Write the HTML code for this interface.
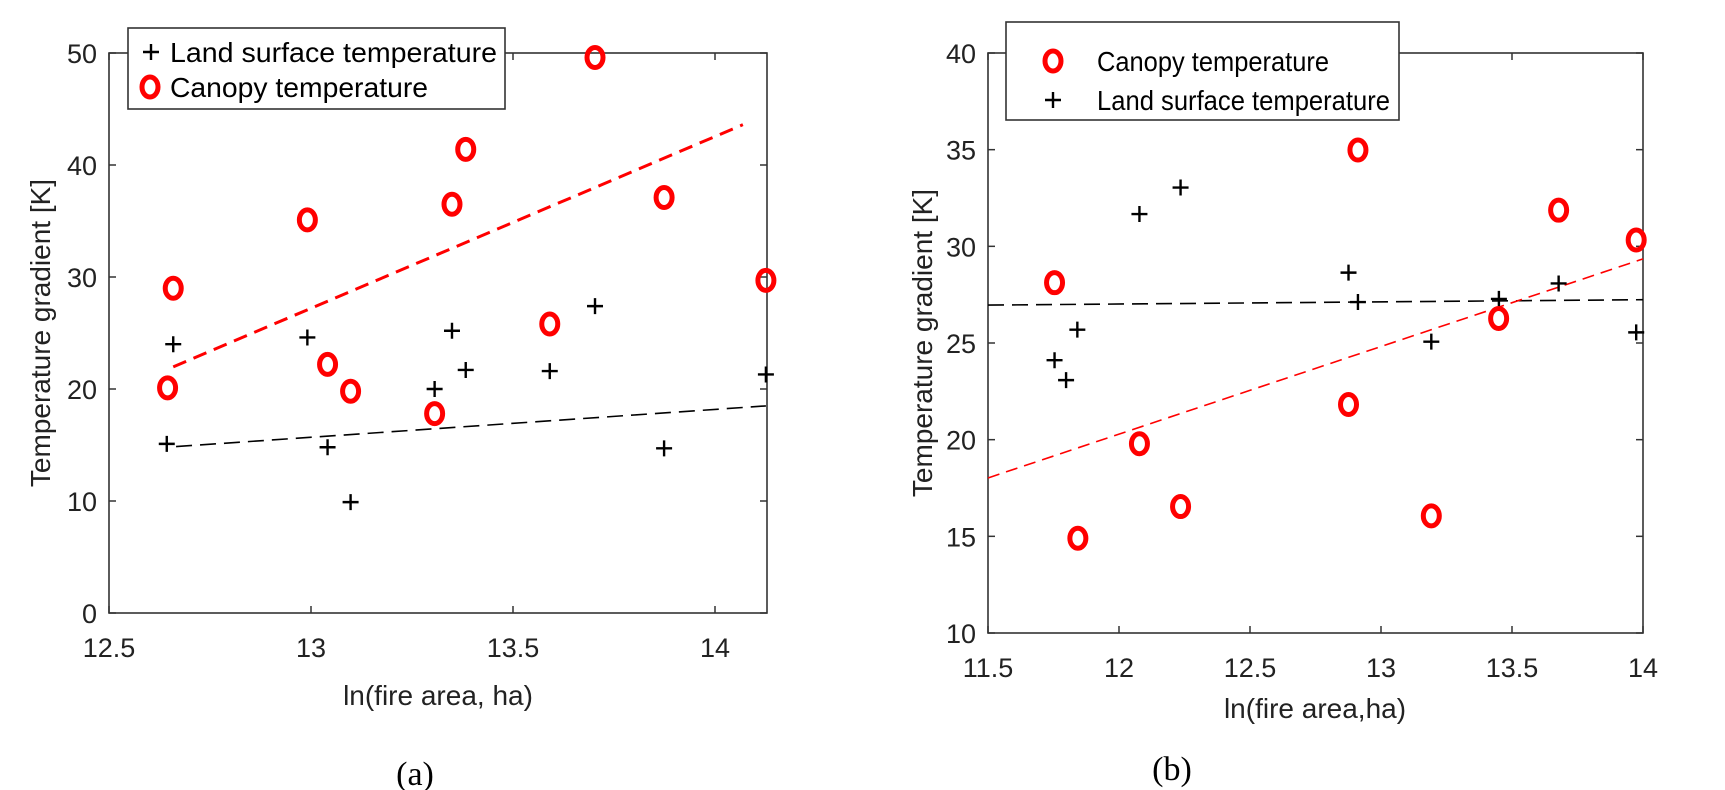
<!DOCTYPE html>
<html><head><meta charset="utf-8"><style>
html,body{margin:0;padding:0;background:#fff;}
svg{display:block;font-family:"Liberation Sans",Arial,sans-serif;}
</style></head><body>
<svg id="chart" width="1725" height="790" viewBox="0 0 1725 790" xmlns="http://www.w3.org/2000/svg"></svg>
<script>
// Panel (a) data
const aCanopyX = [12.645,12.659,12.991,13.041,13.098,13.306,13.349,13.383,13.591,13.703,13.874,14.126];
const aCanopyY = [20.1,29.0,35.1,22.2,19.8,17.8,36.5,41.4,25.8,49.6,37.1,29.7];
const aLandX = [12.643,12.659,12.991,13.041,13.098,13.306,13.349,13.383,13.591,13.703,13.874,14.126];
const aLandY = [15.1,24.0,24.6,14.8,9.9,20.0,25.2,21.7,21.6,27.4,14.7,21.3];
const aCanopyFitX = [12.659,14.069];
const aCanopyFitY = [21.98,43.6];
const aLandFitX = [12.666,14.126];
const aLandFitY = [14.86,18.49];
const aXTicks = [12.5,13,13.5,14];
const aXTickLabels = ["12.5","13","13.5","14"];
const aYTicks = [0,10,20,30,40,50];
// Panel (b) data
const bCanopyX = [11.754,11.843,12.078,12.235,12.876,12.912,13.192,13.449,13.678,13.974];
const bCanopyY = [28.12,14.9,19.79,16.54,21.82,34.98,16.06,26.27,31.87,30.33];
const bLandX = [11.754,11.798,11.841,12.078,12.235,12.876,12.912,13.192,13.450,13.678,13.974];
const bLandY = [24.11,23.08,25.69,31.67,33.04,28.64,27.12,25.07,27.28,28.08,25.55];
const bCanopyFitX = [11.5,14];
const bCanopyFitY = [18.02,29.35];
const bLandFitX = [11.5,14];
const bLandFitY = [26.96,27.24];
const bXTicks = [11.5,12,12.5,13,13.5,14];
const bXTickLabels = ["11.5","12","12.5","13","13.5","14"];
const bYTicks = [10,15,20,25,30,35,40];

const NS="http://www.w3.org/2000/svg";
const svg=document.getElementById('chart');
function mk(tag,attrs,parent){const e=document.createElementNS(NS,tag);for(const k in attrs)e.setAttribute(k,attrs[k]);(parent||svg).appendChild(e);return e;}

function panel(cfg){
  const g=mk('g',{});
  
  
  const sx=v=>cfg.x0+(v-cfg.xmin)*(cfg.x1-cfg.x0)/(cfg.xmax-cfg.xmin);
  const sy=v=>cfg.y0+(v-cfg.ymin)*(cfg.y1-cfg.y0)/(cfg.ymax-cfg.ymin);
  const L=cfg.x0,R=cfg.x1,B=cfg.y0,T=cfg.y1;
  const box=mk('rect',{x:L,y:T,width:R-L,height:B-T,fill:'none',stroke:'#333','stroke-width':1.6},g);
  
  
  cfg.xt.forEach((v,i)=>{
    const x=sx(v);
    mk('line',{x1:x,x2:x,y1:B,y2:B-7,stroke:'#333','stroke-width':1.5},g);
    mk('line',{x1:x,x2:x,y1:T,y2:T+7,stroke:'#333','stroke-width':1.5},g);
    const t=mk('text',{x:x,y:B+44,'text-anchor':'middle','font-size':27,fill:'#222'},g);
    t.textContent=cfg.xtl[i];
    
    
  });
  cfg.yt.forEach(v=>{
    const y=sy(v);
    mk('line',{x1:L,x2:L+7,y1:y,y2:y,stroke:'#333','stroke-width':1.5},g);
    mk('line',{x1:R,x2:R-7,y1:y,y2:y,stroke:'#333','stroke-width':1.5},g);
    const t=mk('text',{x:L-12,y:y+10,'text-anchor':'end','font-size':27,fill:'#222'},g);
    t.textContent=String(v);
    
    
  });
  const lf=mk('line',{x1:sx(cfg.lfx[0]),y1:sy(cfg.lfy[0]),x2:sx(cfg.lfx[1]),y2:sy(cfg.lfy[1]),stroke:'#000','stroke-width':1.6,'stroke-dasharray':'16 8'},g);
  
  
  const cf=mk('line',{x1:sx(cfg.cfx[0]),y1:sy(cfg.cfy[0]),x2:sx(cfg.cfx[1]),y2:sy(cfg.cfy[1]),stroke:'#f00','stroke-width':cfg.redW,'stroke-dasharray':cfg.redDash},g);
  
  
  cfg.lx.forEach((v,i)=>{
    const x=sx(v),y=sy(cfg.ly[i]);
    const p=mk('path',{d:`M${x-8},${y}H${x+8}M${x},${y-8}V${y+8}`,stroke:'#000','stroke-width':2.4,fill:'none'},g);
    
    
  });
  cfg.cx.forEach((v,i)=>{
    const c=mk('ellipse',{cx:sx(v),cy:sy(cfg.cy[i]),rx:8,ry:10,fill:'none',stroke:'#f00','stroke-width':5},g);
    
    
  });
  const xl=mk('text',{x:cfg.xlx,y:cfg.xly,'text-anchor':'middle','font-size':28,fill:'#222'},g);
  xl.textContent=cfg.xlabel;
  
  
  const yl=mk('text',{x:0,y:0,'text-anchor':'middle','font-size':28,fill:'#222',transform:`translate(${cfg.ylx},${(T+B)/2}) rotate(-90)`},g);
  yl.textContent='Temperature gradient [K]';
  
  
  const pl=mk('text',{x:cfg.plx,y:cfg.ply,'text-anchor':'middle','font-size':34,fill:'#000','font-family':'"Liberation Serif",serif'},g);
  pl.textContent=cfg.plabel;
  
  
  // legend
  const lg=mk('g',{},g);
  
  
  mk('rect',{x:cfg.lgx,y:cfg.lgy,width:cfg.lgw,height:cfg.lgh,fill:'#fff',stroke:'#333','stroke-width':1.6},lg);
  cfg.entries.forEach(en=>{
    const e=mk('g',{},lg);
    
    
    if(en.kind==='plus') mk('path',{d:`M${en.mx-8},${en.y}H${en.mx+8}M${en.mx},${en.y-8}V${en.y+8}`,stroke:'#000','stroke-width':2.4},e);
    else mk('ellipse',{cx:en.mx,cy:en.y,rx:8,ry:10,fill:'none',stroke:'#f00','stroke-width':5},e);
    const t=mk('text',{x:en.tx,y:en.y+10,'font-size':28,fill:'#000',textLength:en.tw,lengthAdjust:'spacingAndGlyphs'},e);
    t.textContent=en.label;
  });
}

panel({name:'panel-a',x0:109,x1:767,xmin:12.5,xmax:12.5+658/404,y0:613,y1:53,ymin:0,ymax:50,
  xt:aXTicks,xtl:aXTickLabels,yt:aYTicks,cx:aCanopyX,cy:aCanopyY,lx:aLandX,ly:aLandY,
  cfx:aCanopyFitX,cfy:aCanopyFitY,lfx:aLandFitX,lfy:aLandFitY,redW:3,redDash:'14 8',
  xlabel:'ln(fire area, ha)',xlx:438,xly:705,ylx:50,plabel:'(a)',plx:415,ply:785,
  lgx:128,lgy:28,lgw:377,lgh:81,
  entries:[{kind:'plus',mx:151,tx:170,tw:327,y:52,label:'Land surface temperature'},
           {kind:'circ',mx:150,tx:170,tw:258,y:87,label:'Canopy temperature'}]});
panel({name:'panel-b',x0:988,x1:1643,xmin:11.5,xmax:14,y0:633,y1:53,ymin:10,ymax:40,
  xt:bXTicks,xtl:bXTickLabels,yt:bYTicks,cx:bCanopyX,cy:bCanopyY,lx:bLandX,ly:bLandY,
  cfx:bCanopyFitX,cfy:bCanopyFitY,lfx:bLandFitX,lfy:bLandFitY,redW:1.6,redDash:'12 7',
  xlabel:'ln(fire area,ha)',xlx:1315,xly:718,ylx:932,plabel:'(b)',plx:1172,ply:780,
  lgx:1006,lgy:22,lgw:393,lgh:98,
  entries:[{kind:'circ',mx:1053,tx:1097,tw:232,y:61,label:'Canopy temperature'},
           {kind:'plus',mx:1053,tx:1097,tw:293,y:100,label:'Land surface temperature'}]});
</script>
</body></html>
